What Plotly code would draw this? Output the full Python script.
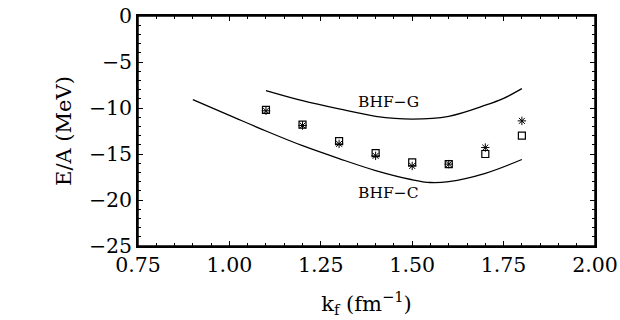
import plotly.graph_objects as go

# BHF-G curve
g_k = [1.10, 1.20, 1.30, 1.40, 1.50, 1.60, 1.70, 1.75, 1.80]
g_e = [-8.1, -9.2, -10.1, -10.9, -11.2, -10.9, -9.7, -8.95, -7.9]

# BHF-C curve
c_k = [0.90, 1.00, 1.10, 1.20, 1.30, 1.40, 1.50, 1.55, 1.60, 1.70, 1.80]
c_e = [-9.1, -10.8, -12.5, -14.1, -15.5, -16.8, -17.8, -18.1, -18.0, -17.1, -15.6]

# data points
sq_k = [1.1, 1.2, 1.3, 1.4, 1.5, 1.6, 1.7, 1.8]
sq_e = [-10.2, -11.8, -13.6, -14.9, -15.9, -16.1, -15.0, -13.0]
st_k = [1.1, 1.2, 1.3, 1.4, 1.5, 1.6, 1.7, 1.8]
st_e = [-10.3, -11.9, -13.9, -15.2, -16.3, -16.1, -14.3, -11.4]

labels = ["BHF\u2212G", "BHF\u2212C"]
label_k = [1.435, 1.435]
label_e = [-9.4, -19.2]

x_ticks = [0.75, 1.00, 1.25, 1.50, 1.75, 2.00]
y_ticks = [0, -5, -10, -15, -20, -25]
x_range = [0.75, 2.00]
y_range = [-25, 0]

FONT = "DejaVu Serif"

fig = go.Figure()
fig.add_trace(go.Scatter(x=g_k, y=g_e, mode="lines", line=dict(color="black", width=1.3, shape="spline")))
fig.add_trace(go.Scatter(x=c_k, y=c_e, mode="lines", line=dict(color="black", width=1.3, shape="spline")))
fig.add_trace(go.Scatter(x=sq_k, y=sq_e, mode="markers",
                         marker=dict(symbol="square-open", size=7, color="black", line=dict(width=1.2))))
# stars drawn on the overlaid (top/right) axes, which share identical ranges
fig.add_trace(go.Scatter(x=st_k, y=st_e, mode="markers", xaxis="x2", yaxis="y2",
                         marker=dict(symbol="asterisk-open", size=7, color="black", line=dict(width=1))))

for t, xk, ye in zip(labels, label_k, label_e):
    fig.add_annotation(x=xk, y=ye, text=t, showarrow=False,
                       font=dict(family=FONT, size=15.5, color="black"))

axis_common = dict(showgrid=False, zeroline=False, showline=True, linecolor="black", linewidth=1.5,
                   automargin=False, ticklabeloverflow="allow",
                   ticks="inside", ticklen=5, tickcolor="black", tickwidth=1,
                   tickfont=dict(family=FONT, size=20.5, color="black"))

fig.update_layout(
    xaxis=dict(range=x_range, tickvals=x_ticks, ticktext=[f"{v:.2f}" for v in x_ticks],
               minor=dict(dtick=0.05, ticks="inside", ticklen=3, tickcolor="black"),
               title=dict(text="k<sub>f</sub> (fm<sup>\u22121</sup>)", font=dict(family=FONT, size=21, color="black"), standoff=20),
               **axis_common),
    yaxis=dict(range=y_range, tickvals=y_ticks, ticktext=[("\u2212" + str(-v)) if v < 0 else str(v) for v in y_ticks],
               minor=dict(dtick=1, ticks="inside", ticklen=3, tickcolor="black"),
               title=dict(text="E/A (MeV)", font=dict(family=FONT, size=21, color="black"), standoff=12),
               **axis_common),
    xaxis2=dict(overlaying="x", side="top", range=x_range, tickvals=x_ticks, showticklabels=False,
                minor=dict(dtick=0.05, ticks="inside", ticklen=3, tickcolor="black"), **axis_common),
    yaxis2=dict(overlaying="y", side="right", range=y_range, tickvals=y_ticks, showticklabels=False,
                minor=dict(dtick=1, ticks="inside", ticklen=3, tickcolor="black"), **axis_common),
)

# frame around the plot area
fig.add_shape(type="rect", xref="paper", yref="paper", x0=0, x1=1, y0=0, y1=1,
              line=dict(color="black", width=1.5), fillcolor="rgba(0,0,0,0)", layer="above")

fig.update_layout(width=620, height=320, margin=dict(l=138, r=25, t=16, b=74),
                  paper_bgcolor="white", plot_bgcolor="white", showlegend=False)

# remove the default page margin so the figure sits at the window's top-left corner
fig.write_html("out.html", config={"displayModeBar": False},
               post_script="document.body.style.margin='0';")
